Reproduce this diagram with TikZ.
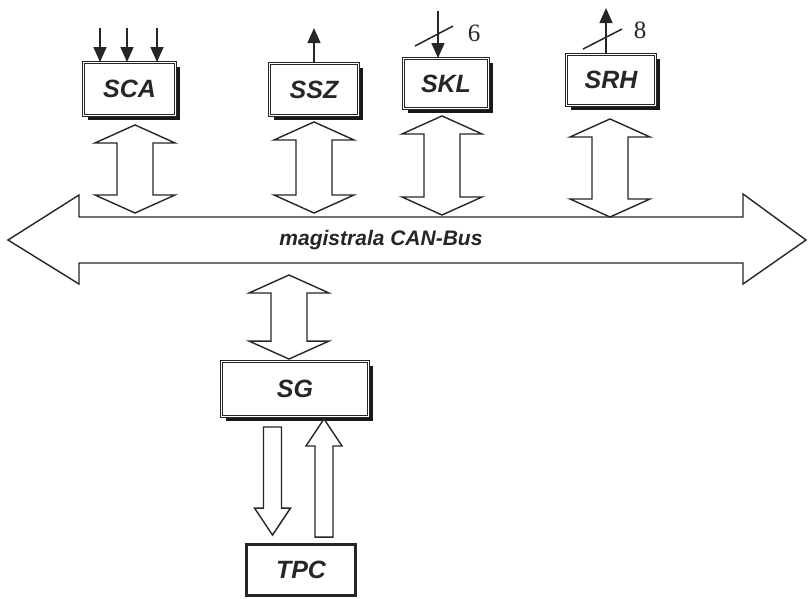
\documentclass[tikz,border=0pt]{standalone}
\usepackage{fontspec}
\setmainfont{Liberation Serif}
\setsansfont{Liberation Sans}
\usepackage{tikz}
\usetikzlibrary{arrows.meta,calc,shadows}
\definecolor{inkgray}{RGB}{38,38,38}

\newcommand{\bothways}[2]{%
  \draw[blockline] let \p1=(#1), \p2=(#2) in
    (\x1,\y1) -- (\x1+40pt,\y1-18pt) -- (\x1+18pt,\y1-18pt) -- (\x1+18pt,\y2+18pt)
    -- (\x1+40pt,\y2+18pt) -- (\x1,\y2) -- (\x1-40pt,\y2+18pt) -- (\x1-18pt,\y2+18pt)
    -- (\x1-18pt,\y1-18pt) -- (\x1-40pt,\y1-18pt) -- cycle;}
\newcommand{\oneway}[3]{%
  \draw[blockline] let \p1=(#1), \p2=(#2) in
    (\x1-9pt,\y1) -- (\x1-9pt,{\y2#3}) -- (\x1-18pt,{\y2#3}) -- (\x1,\y2)
    -- (\x1+18pt,{\y2#3}) -- (\x1+9pt,{\y2#3}) -- (\x1+9pt,\y1) -- cycle;}

\begin{document}
\begin{tikzpicture}[x=1pt, y=-1pt,
  every node/.style={font=\sffamily\bfseries\itshape\fontsize{25}{28}\selectfont, text=inkgray},
  modul/.style={draw=inkgray, line width=0.9pt, double, double distance=1.5pt, fill=white,
    drop shadow={shadow xshift=4.5pt, shadow yshift=-4.5pt, fill=black!90, opacity=1}},
  blockline/.style={draw=inkgray, line width=1.4pt, fill=white, line join=miter},
  sig/.style={draw=inkgray, line width=1.5pt, -{Triangle[length=15pt,width=13pt]}}]
  \useasboundingbox (0,0) rectangle (809,598);

  \draw[blockline] (8,240) -- (79,195) -- (79,217) -- (743,217) -- (743,194) -- (806,240)
    -- (743,284) -- (743,263) -- (79,263) -- (79,284) -- cycle;
  \coordinate (busN) at (0,217);
  \coordinate (busS) at (0,263);
  \node[font=\sffamily\bfseries\itshape\fontsize{21}{25}\selectfont] (bus) at (381,240) {magistrala CAN-Bus};

  \node[modul,minimum width=92pt,minimum height=53pt] (sca) at (129.5,89) {SCA};
  \node[modul,minimum width=89pt,minimum height=52pt] (ssz) at (314,89.5) {SSZ};
  \node[modul,minimum width=85pt,minimum height=50pt] (skl) at (446,83.5) {SKL};
  \node[modul,minimum width=89pt,minimum height=51pt] (srh) at (611,80) {SRH};
  \node[modul,minimum width=147pt,minimum height=55pt] (sg) at (295,389) {SG};
  \node[draw=inkgray,line width=2.8pt,fill=white,minimum width=109pt,minimum height=51pt] (tpc) at (301,570) {TPC};

  \foreach \dx in {-29.5,-2.5,27.5}
    \draw[sig] ($(sca.north)+(\dx,-34)$) -- ($(sca.north)+(\dx,0)$);
  \draw[sig] (ssz.north) -- ++(0,-35);
  \draw[sig] ($(skl.north)+(-8,-47)$) -- ($(skl.north)+(-8,0)$);
  \draw[draw=inkgray,line width=1.5pt] ($(skl.north)+(-31,-12)$) -- ++(38,-20);
  \node[font=\rmfamily\fontsize{25}{28}\selectfont] (bits6) at (474,33) {6};
  \draw[sig] ($(srh.north)+(-5,0)$) -- ($(srh.north)+(-5,-46)$);
  \draw[draw=inkgray,line width=1.5pt] ($(srh.north)+(-28,-5)$) -- ++(39,-20);
  \node[font=\rmfamily\fontsize{25}{28}\selectfont] (bits8) at (640,30) {8};

  \bothways{$(sca.south)+(5.5,9)$}{$(sca.south |- busN)+(0,-4)$}
  \bothways{$(ssz.south)+(0,6)$}{$(ssz.south |- busN)+(0,-4)$}
  \bothways{$(skl.south)+(-4,7)$}{$(skl.south |- busN)+(0,-2)$}
  \bothways{$(srh.south)+(-1,13)$}{$(srh.south |- busN)$}
  \bothways{$(sg.north |- busS)+(-6,12)$}{$(sg.north)+(0,-2)$}

  \oneway{$(sg.south)+(-22.5,10)$}{$(tpc.north)+(0,-8)$}{+27pt}
  \oneway{$(tpc.north)+(23,-6)$}{$(sg.south)+(0,2)$}{-27pt}
\end{tikzpicture}
\end{document}
